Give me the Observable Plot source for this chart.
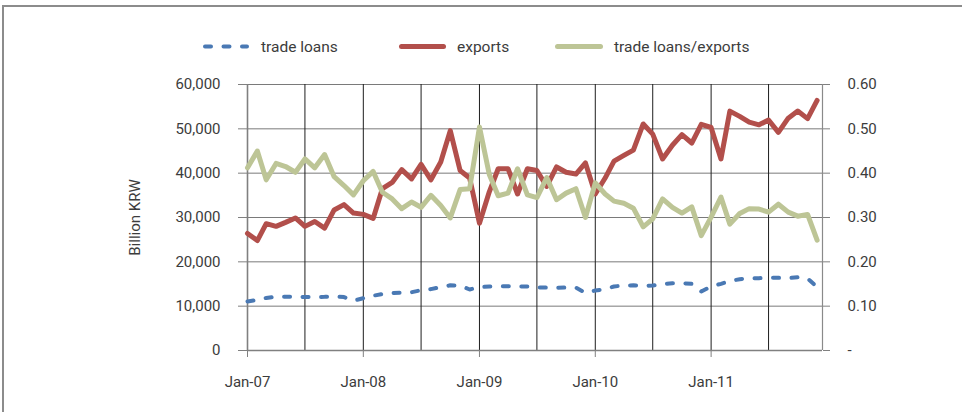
<!DOCTYPE html>
<html><head><meta charset="utf-8">
<script src="https://cdn.jsdelivr.net/npm/d3@7"></script>
<script src="https://cdn.jsdelivr.net/npm/@observablehq/plot@0.6"></script>
<style>
body{margin:0;background:#fff;font-family:Roboto,sans-serif;}
#wrap{position:relative;width:962px;height:412px;overflow:hidden;background:#fff;}
#border{position:absolute;left:2px;top:5px;width:980px;height:420px;border-top:2px solid #8c8c8c;border-left:2px solid #8c8c8c;}
#chart{position:absolute;left:0;top:0;}
#legend{position:absolute;left:0;top:0;}
g[aria-label="y-axis tick"], g[aria-label="x-axis tick"]{stroke:#808080;}
</style></head><body>
<div id="wrap"><div id="border"></div><div id="chart"></div><svg id="legend" width="962" height="70"></svg></div>
<script>
// ---- data ----
const months = [
 "2007-01","2007-02","2007-03","2007-04","2007-05","2007-06","2007-07","2007-08","2007-09","2007-10","2007-11","2007-12",
 "2008-01","2008-02","2008-03","2008-04","2008-05","2008-06","2008-07","2008-08","2008-09","2008-10","2008-11","2008-12",
 "2009-01","2009-02","2009-03","2009-04","2009-05","2009-06","2009-07","2009-08","2009-09","2009-10","2009-11","2009-12",
 "2010-01","2010-02","2010-03","2010-04","2010-05","2010-06","2010-07","2010-08","2010-09","2010-10","2010-11","2010-12",
 "2011-01","2011-02","2011-03","2011-04","2011-05","2011-06","2011-07","2011-08","2011-09","2011-10","2011-11","2011-12"
];
const tradeLoans = [
 11050,11400,11850,12150,12150,12150,12050,12050,12100,12200,12050,11250,
 11800,12350,12750,12950,13050,13150,13600,13850,14300,14700,14650,13760,
 14300,14440,14500,14500,14440,14440,14210,14180,14140,14200,14180,13000,
 13530,13830,14440,14660,14700,14590,14650,14960,15190,15190,15040,13310,
 14440,15040,15640,16090,16320,16320,16390,16390,16350,16500,16250,14300
];
const exportsKRW = [
 26400,24800,28600,28000,28900,29900,28000,29100,27600,31700,32900,31000,
 30700,29800,36500,37900,40800,38700,42000,38500,42500,49600,40600,38900,
 28700,35800,41000,41000,35300,41000,40600,37000,41400,40200,39800,42300,
 35300,38900,42700,44000,45200,51100,48800,43200,46300,48700,46800,51000,
 50300,43200,54000,52800,51500,50900,52000,49200,52400,54000,52300,56400
];
const ratio = [
 0.412,0.450,0.385,0.422,0.415,0.402,0.432,0.412,0.442,0.392,0.372,0.351,
 0.383,0.404,0.357,0.342,0.320,0.335,0.323,0.350,0.327,0.299,0.363,0.365,
 0.504,0.397,0.349,0.355,0.410,0.351,0.345,0.390,0.340,0.355,0.365,0.300,
 0.378,0.353,0.337,0.332,0.321,0.279,0.297,0.342,0.323,0.310,0.324,0.259,
 0.301,0.346,0.285,0.309,0.320,0.319,0.312,0.330,0.312,0.303,0.307,0.249
];
const seriesNames = ["trade loans","exports","trade loans/exports"];
const seriesColors = ["#4a79b4","#b24f4b","#bdc596"];
const leftTicks = [0,10000,20000,30000,40000,50000,60000];
const rightTickLabels = ["-","0.10","0.20","0.30","0.40","0.50","0.60"];
const ratioMax = 0.60;
const leftMax = 60000;
const xStart = "2007-01-01", xEnd = "2011-12-18";

// ---- build ----
const k = leftMax / ratioMax;  // map ratio onto the left scale
const data = months.map((m, i) => ({
  date: new Date(m + "-01T00:00:00Z"),
  loans: tradeLoans[i],
  exports: exportsKRW[i],
  ratioScaled: ratio[i] * k
}));
const xDomain = [new Date(xStart + "T00:00:00Z"), new Date(xEnd + "T00:00:00Z")];
const halfYears = d3.utcMonth.every(6).range(xDomain[0], xDomain[1]);
const years = d3.utcYear.every(1).range(xDomain[0], xDomain[1]);
const textColor = "#3c3c3c";

const chart = Plot.plot({
  width: 962, height: 412,
  marginLeft: 247, marginRight: 140, marginTop: 84, marginBottom: 62,
  style: {fontFamily: "Roboto, sans-serif", fontSize: "15px", color: textColor, background: "transparent", overflow: "visible"},
  x: {type: "utc", domain: xDomain},
  y: {domain: [0, leftMax]},
  marks: [
    Plot.gridY(leftTicks, {stroke: "#7a7a7a", strokeOpacity: 1, strokeWidth: 1}),
    Plot.gridX(halfYears, {stroke: "#1e1e1e", strokeOpacity: 1, strokeWidth: 1}),
    Plot.ruleX([xDomain[1]], {stroke: "#8a8a8a", strokeWidth: 1.2}),
    Plot.ruleX([xDomain[0]], {stroke: "#808080", strokeWidth: 1.6}),
    Plot.ruleY([0], {stroke: "#808080", strokeWidth: 1.6}),
    Plot.axisY({ticks: leftTicks, anchor: "left", tickSize: 9, tickPadding: 18,
      tickFormat: d3.format(","), label: "Billion KRW", labelAnchor: "center",
      labelArrow: "none", labelOffset: 118, fontSize: 15}),
    Plot.axisY({ticks: leftTicks, anchor: "right", tickSize: 7, tickPadding: 18,
      tickFormat: (d, i) => rightTickLabels[leftTicks.indexOf(d)], label: null, textAnchor: "start", fontSize: 15}),
    Plot.axisX({ticks: years, anchor: "bottom", tickSize: 7, tickPadding: 19,
      tickFormat: d3.utcFormat("%b-%y"), label: null, fontSize: 15}),
    Plot.line(data, {x: "date", y: "loans", stroke: seriesColors[0], strokeWidth: 4,
      strokeDasharray: "6,12.5", strokeLinecap: "round", strokeLinejoin: "round"}),
    Plot.line(data, {x: "date", y: "exports", stroke: seriesColors[1], strokeWidth: 5,
      strokeLinecap: "round", strokeLinejoin: "round"}),
    Plot.line(data, {x: "date", y: "ratioScaled", stroke: seriesColors[2], strokeWidth: 5,
      strokeLinecap: "round", strokeLinejoin: "round"})
  ]
});
document.getElementById("chart").appendChild(chart);

// ---- legend ----
const legend = d3.select("#legend");
const items = [
  {x0: 205, x1: 247, tx: 261, dash: "6,12.5", w: 4},
  {x0: 401.5, x1: 443.5, tx: 457, dash: null, w: 5},
  {x0: 557.5, x1: 600.5, tx: 614, dash: null, w: 5}
];
items.forEach((it, i) => {
  legend.append("line").attr("x1", it.x0).attr("x2", it.x1).attr("y1", 46.5).attr("y2", 46.5)
    .attr("stroke", seriesColors[i]).attr("stroke-width", it.w).attr("stroke-linecap", "round")
    .attr("stroke-dasharray", it.dash);
  legend.append("text").attr("x", it.tx).attr("y", 52).attr("fill", textColor)
    .style("font-family", "Roboto, sans-serif").style("font-size", "15.5px").text(seriesNames[i]);
});
</script></body></html>
